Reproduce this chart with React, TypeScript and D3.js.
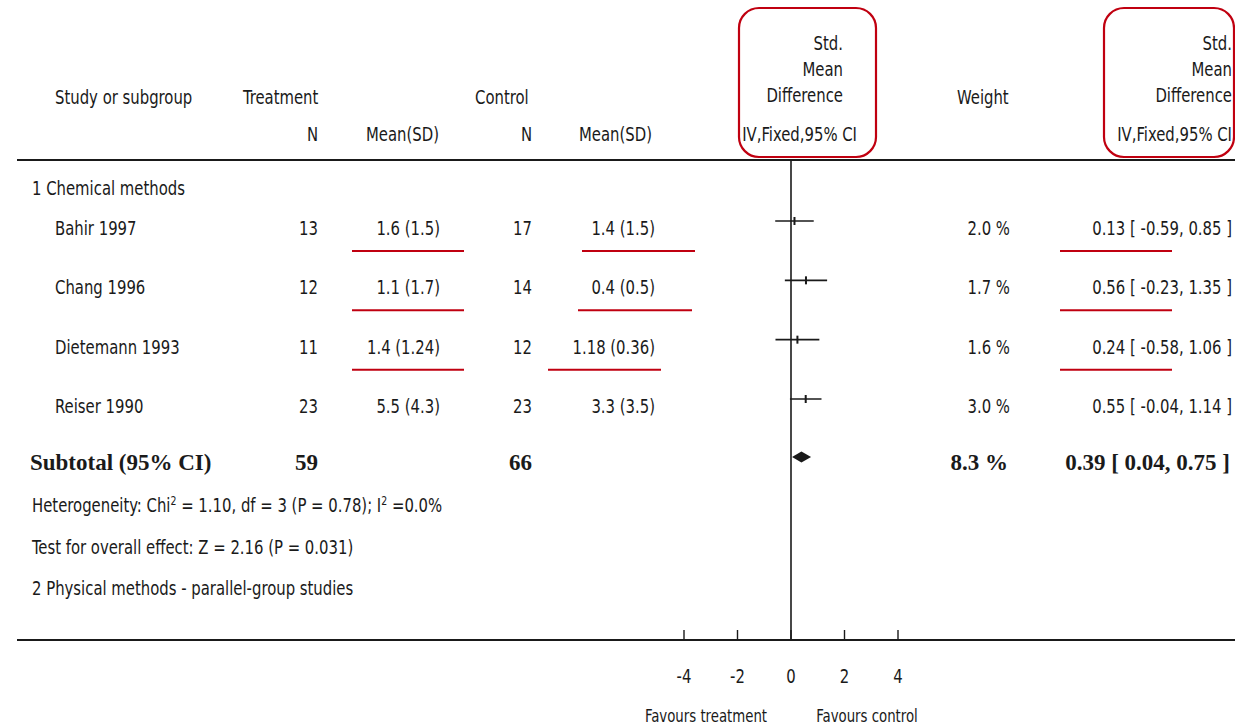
import React from 'react';
import * as d3 from 'd3';

const studies = ['Bahir 1997', 'Chang 1996', 'Dietemann 1993', 'Reiser 1990'];
const treatN = [13, 12, 11, 23];
const treatMeanSD = ['1.6 (1.5)', '1.1 (1.7)', '1.4 (1.24)', '5.5 (4.3)'];
const ctrlN = [17, 14, 12, 23];
const ctrlMeanSD = ['1.4 (1.5)', '0.4 (0.5)', '1.18 (0.36)', '3.3 (3.5)'];
const weights = [2.0, 1.7, 1.6, 3.0];
const smd = [0.13, 0.56, 0.24, 0.55];
const ciLow = [-0.59, -0.23, -0.58, -0.04];
const ciHigh = [0.85, 1.35, 1.06, 1.14];
const subtotalN = [59, 66];
const subtotalWeight = 8.3;
const subtotalSmd = 0.39;
const subtotalCi = [0.04, 0.75];
const axisTicks = [-4, -2, 0, 2, 4];
const underlinedRows = [0, 1, 2];

const W = 1235;
const H = 725;
const SANS = "'Liberation Sans Narrow', 'DejaVu Sans Condensed', 'Arial Narrow', sans-serif";
const SERIF = "'Liberation Serif', 'DejaVu Serif', serif";
const RED = '#c00010';
const INK = '#1a1a1a';
const SX = 0.87;

const fmt2 = (v: number) => v.toFixed(2);
const ciText = (m: number, lo: number, hi: number) => `${fmt2(m)} [ ${fmt2(lo)}, ${fmt2(hi)} ]`;

export default function App() {
  const x = d3.scaleLinear().domain([-4, 4]).range([684, 898]);
  const y = d3.scalePoint<string>().domain(studies).range([235, 413]);

  const ctrlUnderline = [
    [582, 695],
    [578, 692],
    [548, 661],
  ];

  const fs = 19;
  const t = (txt: string, xx: number, yy: number, anchor: string = 'start', size: number = fs) => (
    <text
      transform={`translate(${xx},${yy}) scale(${SX},1)`}
      textAnchor={anchor as any}
      fontFamily={SANS}
      fontSize={size}
      fill={INK}
    >
      {txt}
    </text>
  );

  const diamond = (() => {
    const cy = 457;
    const h = 5.5;
    return `M${x(subtotalCi[0])},${cy} L${x(subtotalSmd)},${cy - h} L${x(subtotalCi[1])},${cy} L${x(subtotalSmd)},${cy + h} Z`;
  })();

  return (
    <svg width={W} height={H} style={{ position: 'absolute', left: 0, top: 0, background: '#fff' }}>
      <rect x={0} y={0} width={W} height={H} fill="#fff" />

      {/* Header */}
      {t('Study or subgroup', 55, 104)}
      {t('Treatment', 243, 104)}
      {t('Control', 475, 104)}
      {t('N', 318, 141, 'end')}
      {t('Mean(SD)', 366, 141)}
      {t('N', 532, 141, 'end')}
      {t('Mean(SD)', 579, 141)}
      {t('Std.', 843, 50, 'end')}
      {t('Mean', 843, 76, 'end')}
      {t('Difference', 843, 102, 'end')}
      {t('IV,Fixed,95% CI', 857, 141, 'end')}
      {t('Weight', 957, 104)}
      {t('Std.', 1232, 50, 'end')}
      {t('Mean', 1232, 76, 'end')}
      {t('Difference', 1232, 102, 'end')}
      {t('IV,Fixed,95% CI', 1232, 141, 'end')}

      <line x1={17} x2={W} y1={160} y2={160} stroke={INK} strokeWidth={2} />

      {/* zero line */}
      <line x1={x(0)} x2={x(0)} y1={160} y2={640} stroke={INK} strokeWidth={1.6} />

      {t('1 Chemical methods', 32, 195)}

      {studies.map((s, i) => {
        const by = y(s) as number;
        const cy = by - 14;
        return (
          <g key={s}>
            {t(s, 55, by)}
            {t(String(treatN[i]), 318, by, 'end')}
            {t(treatMeanSD[i], 440, by, 'end')}
            {t(String(ctrlN[i]), 532, by, 'end')}
            {t(ctrlMeanSD[i], 655, by, 'end')}
            {t(`${weights[i].toFixed(1)} %`, 1010, by, 'end')}
            {t(ciText(smd[i], ciLow[i], ciHigh[i]), 1232, by, 'end')}
            <line x1={x(ciLow[i])} x2={x(ciHigh[i])} y1={cy} y2={cy} stroke={INK} strokeWidth={1.6} />
            <rect x={x(smd[i]) - 1} y={cy - 4} width={2} height={8} fill={INK} />
          </g>
        );
      })}

      {/* red underlines */}
      {underlinedRows.map((i) => {
        const uy = (y(studies[i]) as number) + 16;
        return (
          <g key={`u${i}`}>
            <line x1={352} x2={464} y1={uy} y2={uy} stroke={RED} strokeWidth={2} />
            <line x1={ctrlUnderline[i][0]} x2={ctrlUnderline[i][1]} y1={uy} y2={uy} stroke={RED} strokeWidth={2} />
            <line x1={1060} x2={1172} y1={uy} y2={uy} stroke={RED} strokeWidth={2} />
          </g>
        );
      })}

      {/* Subtotal */}
      <g fontFamily={SERIF} fontWeight="bold" fontSize={23} fill={INK}>
        <text x={30} y={470}>Subtotal (95% CI)</text>
        <text x={318} y={470} textAnchor="end">{subtotalN[0]}</text>
        <text x={532} y={470} textAnchor="end">{subtotalN[1]}</text>
        <text x={1008} y={470} textAnchor="end">{`${subtotalWeight.toFixed(1)} %`}</text>
        <text x={1230} y={470} textAnchor="end">{ciText(subtotalSmd, subtotalCi[0], subtotalCi[1])}</text>
      </g>
      <path d={diamond} fill={INK} />

      <text transform={`translate(32,512) scale(${SX},1)`} fontFamily={SANS} fontSize={fs} fill={INK}>
        Heterogeneity: Chi<tspan dy={-7} fontSize={12}>2</tspan>
        <tspan dy={7}> = 1.10, df = 3 (P = 0.78); I</tspan>
        <tspan dy={-7} fontSize={12}>2</tspan>
        <tspan dy={7}> =0.0%</tspan>
      </text>
      {t('Test for overall effect: Z = 2.16 (P = 0.031)', 32, 554)}
      {t('2 Physical methods - parallel-group studies', 32, 595)}

      {/* Axis */}
      <line x1={17} x2={W} y1={640} y2={640} stroke={INK} strokeWidth={2} />
      {axisTicks.map((v) => (
        <g key={v}>
          <line x1={x(v)} x2={x(v)} y1={630} y2={640} stroke={INK} strokeWidth={1.4} />
          {t(String(v), x(v), 683, 'middle')}
        </g>
      ))}
      {t('Favours treatment', 706, 722, 'middle', 17)}
      {t('Favours control', 867, 722, 'middle', 17)}

      {/* red rounded boxes */}
      <rect x={739} y={8} width={137} height={149} rx={20} ry={20} fill="none" stroke={RED} strokeWidth={2.2} />
      <rect x={1104} y={8} width={130} height={149} rx={20} ry={20} fill="none" stroke={RED} strokeWidth={2.2} />
    </svg>
  );
}
